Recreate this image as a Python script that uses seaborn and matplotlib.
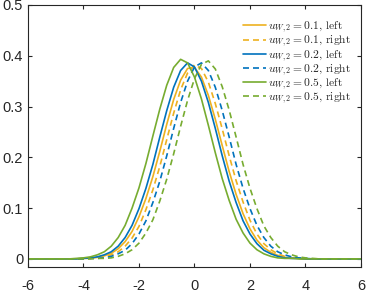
import matplotlib
matplotlib.use("Agg")
import pandas as pd
import matplotlib.pyplot as plt
import seaborn as sns

# grid of the density estimate
x = [-6.0, -4.5, -4.25, -4.0, -3.75, -3.5, -3.25, -3.0, -2.75, -2.5, -2.25,
     -2.0, -1.75, -1.5, -1.25, -1.0, -0.75, -0.5, -0.25, 0.0, 0.25, 0.5,
     0.75, 1.0, 1.25, 1.5, 1.75, 2.0, 2.25, 2.5, 2.75, 3.0, 3.25, 3.5, 3.75,
     4.0, 4.25, 4.5, 6.0]

u01_left = [0, 0.000, 0.000, 0.001, 0.001, 0.003, 0.006, 0.011, 0.020, 0.034,
            0.054, 0.083, 0.119, 0.162, 0.212, 0.265, 0.314, 0.352, 0.375,
            0.377, 0.358, 0.322, 0.275, 0.223, 0.172, 0.127, 0.089, 0.059,
            0.037, 0.022, 0.013, 0.007, 0.003, 0.002, 0.001, 0.000, 0.000,
            0.000, 0]
u01_right = [0, 0.000, 0.000, 0.000, 0.001, 0.002, 0.004, 0.008, 0.014, 0.025,
             0.041, 0.064, 0.097, 0.136, 0.182, 0.235, 0.287, 0.333, 0.366,
             0.382, 0.375, 0.348, 0.306, 0.256, 0.203, 0.154, 0.112, 0.076,
             0.049, 0.030, 0.018, 0.010, 0.005, 0.002, 0.001, 0.000, 0.000,
             0.000, 0]
u02_left = [0, 0.000, 0.000, 0.001, 0.002, 0.004, 0.008, 0.014, 0.025, 0.042,
            0.066, 0.099, 0.139, 0.186, 0.240, 0.292, 0.338, 0.371, 0.386,
            0.378, 0.350, 0.308, 0.257, 0.203, 0.153, 0.111, 0.075, 0.049,
            0.030, 0.017, 0.010, 0.005, 0.002, 0.001, 0.001, 0.000, 0.000,
            0.000, 0]
u02_right = [0, 0.000, 0.000, 0.000, 0.001, 0.001, 0.002, 0.005, 0.010, 0.017,
             0.030, 0.049, 0.075, 0.111, 0.153, 0.203, 0.257, 0.308, 0.350,
             0.378, 0.386, 0.371, 0.338, 0.292, 0.240, 0.186, 0.139, 0.099,
             0.066, 0.042, 0.025, 0.014, 0.008, 0.004, 0.002, 0.001, 0.000,
             0.000, 0]
u05_left = [0, 0.000, 0.001, 0.002, 0.004, 0.008, 0.014, 0.025, 0.042, 0.066,
            0.100, 0.140, 0.188, 0.242, 0.295, 0.342, 0.377, 0.393, 0.386,
            0.358, 0.315, 0.263, 0.209, 0.158, 0.115, 0.078, 0.051, 0.031,
            0.018, 0.010, 0.005, 0.002, 0.001, 0.001, 0.000, 0.000, 0.000,
            0.000, 0]
u05_right = [0, 0.000, 0.000, 0.000, 0.000, 0.001, 0.001, 0.002, 0.005, 0.010,
             0.018, 0.031, 0.051, 0.077, 0.114, 0.157, 0.207, 0.261, 0.312,
             0.355, 0.383, 0.390, 0.374, 0.339, 0.293, 0.240, 0.186, 0.139,
             0.099, 0.065, 0.042, 0.025, 0.014, 0.008, 0.004, 0.002, 0.001,
             0.000, 0]

labels = [r"$u_{W,2}=0.1$, left", r"$u_{W,2}=0.1$, right",
          r"$u_{W,2}=0.2$, left", r"$u_{W,2}=0.2$, right",
          r"$u_{W,2}=0.5$, left", r"$u_{W,2}=0.5$, right"]
series = [u01_left, u01_right, u02_left, u02_right, u05_left, u05_right]
colors = ["#EDB120", "#EDB120", "#0072BD", "#0072BD", "#77AC30", "#77AC30"]
dashed = [False, True, False, True, False, True]

sns.set_style("ticks")
plt.rcParams["font.family"] = ["Liberation Sans", "DejaVu Sans"]
plt.rcParams["mathtext.fontset"] = "cm"

fig = plt.figure(figsize=(3.66, 2.92), dpi=100)
ax = fig.add_axes([0.0765, 0.0856, 0.9098, 0.8973])

for lab, y, c, d in zip(labels, series, colors, dashed):
    df = pd.DataFrame({"x": x, "y": y})
    sns.lineplot(data=df, x="x", y="y", ax=ax, color=c, lw=1.2, label=lab)
    if d:
        ax.lines[-1].set_dashes((3.6, 2.4))

ax.set_xlim(-6, 6)
ax.set_ylim(-0.016, 0.5)
ax.set_xticks([-6, -4, -2, 0, 2, 4, 6])
ax.set_xticklabels(["-6", "-4", "-2", "0", "2", "4", "6"])
ax.set_yticks([0, 0.1, 0.2, 0.3, 0.4, 0.5])
ax.set_yticklabels(["0", "0.1", "0.2", "0.3", "0.4", "0.5"])
ax.set_xlabel("")
ax.set_ylabel("")
for s in ax.spines.values():
    s.set_visible(True)
    s.set_color("#262626")
    s.set_linewidth(0.8)
ax.tick_params(direction="in", length=3, width=0.8, color="#262626",
               top=True, right=True, labelsize=10.5, labelcolor="#262626")
ax.tick_params(axis="x", pad=8.5)
ax.tick_params(axis="y", pad=3.5)

ax.legend(loc="upper right", bbox_to_anchor=(0.99, 0.97), frameon=False,
          prop={"family": "cmr10", "size": 8.3}, handlelength=2.0,
          handletextpad=0.15, labelspacing=-0.1, borderaxespad=0.2)

fig.savefig("out.png", dpi=100)
